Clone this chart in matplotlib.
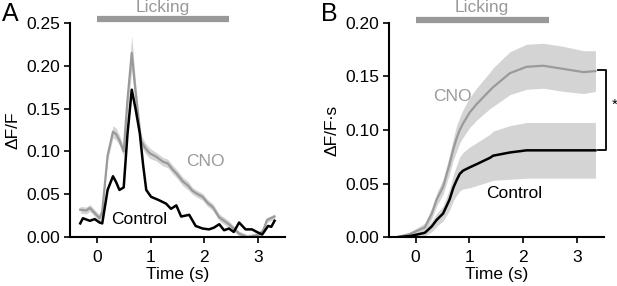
import numpy as np
import matplotlib
matplotlib.use("Agg")
import matplotlib.pyplot as plt

plt.rcParams['font.family'] = ['Liberation Sans', 'DejaVu Sans']

# -----------------------------------------
# Panel A : dF/F traces
# -----------------------------------------
t_ctrl_a = [-0.31, -0.26, -0.13, -0.04, 0.05, 0.1, 0.2, 0.30, 0.36, 0.42, 0.50, 0.57, 0.65, 0.72,
            0.80, 0.86, 0.92, 1.01, 1.16, 1.29, 1.38, 1.48, 1.57, 1.72, 1.84, 1.97, 2.09, 2.18,
            2.28, 2.37, 2.46, 2.55, 2.65, 2.77, 2.89, 2.98, 3.08, 3.19, 3.25, 3.31]
v_ctrl_a = [0.016, 0.022, 0.019, 0.021, 0.017, 0.016, 0.055, 0.071, 0.064, 0.055, 0.058, 0.120, 0.172, 0.150,
            0.121, 0.085, 0.055, 0.047, 0.043, 0.039, 0.033, 0.037, 0.024, 0.026, 0.013, 0.010, 0.009, 0.011,
            0.015, 0.008, 0.010, 0.006, 0.017, 0.009, 0.009, 0.006, 0.003, 0.013, 0.012, 0.019]

t_cno_a = [-0.31, -0.20, -0.13, 0.05, 0.1, 0.2, 0.30, 0.36, 0.42, 0.50, 0.57, 0.65, 0.72, 0.82, 0.90,
           0.98, 1.10, 1.23, 1.32, 1.41, 1.50, 1.60, 1.70, 1.78, 1.88, 1.97, 2.06, 2.16, 2.28, 2.37,
           2.46, 2.55, 2.65, 2.80, 2.90, 3.02, 3.10, 3.17, 3.31]
v_cno_a = [0.032, 0.031, 0.034, 0.022, 0.030, 0.095, 0.123, 0.120, 0.113, 0.100, 0.160, 0.215, 0.170, 0.113, 0.104,
           0.098, 0.094, 0.088, 0.086, 0.079, 0.073, 0.065, 0.060, 0.054, 0.050, 0.047, 0.040, 0.035, 0.023, 0.019,
           0.015, 0.010, 0.004, 0.000, 0.001, 0.003, 0.008, 0.020, 0.024]
e_cno_a = [0.004, 0.004, 0.004, 0.004, 0.004, 0.005, 0.007, 0.007, 0.006, 0.006, 0.012, 0.020, 0.012, 0.007, 0.006,
           0.006, 0.005, 0.005, 0.005, 0.005, 0.005, 0.005, 0.005, 0.004, 0.004, 0.004, 0.004, 0.004, 0.004, 0.004,
           0.004, 0.003, 0.003, 0.003, 0.003, 0.003, 0.003, 0.003, 0.003]

# -----------------------------------------
# Panel B : cumulative dF/F
# -----------------------------------------
t_b = [-0.33, -0.10, 0.17, 0.30, 0.39, 0.51, 0.63, 0.70, 0.76, 0.82, 0.88, 1.00, 1.13, 1.38, 1.44, 1.75, 2.06,
       2.37, 2.75, 3.12, 3.34]
v_cno_b = [0.000, 0.003, 0.009, 0.022, 0.035, 0.047, 0.068, 0.082, 0.092, 0.100, 0.106, 0.116, 0.124, 0.137, 0.140,
           0.153, 0.159, 0.160, 0.157, 0.154, 0.155]
e_cno_b = [0.000, 0.002, 0.004, 0.005, 0.006, 0.007, 0.009, 0.010, 0.012, 0.012, 0.013, 0.014, 0.015, 0.017, 0.018,
           0.020, 0.021, 0.021, 0.021, 0.020, 0.019]
v_ctrl_b = [0.000, 0.001, 0.004, 0.010, 0.016, 0.022, 0.035, 0.046, 0.053, 0.059, 0.062, 0.065, 0.068, 0.074, 0.076,
            0.079, 0.081, 0.081, 0.081, 0.081, 0.081]
e_ctrl_b = [0.000, 0.001, 0.003, 0.005, 0.006, 0.007, 0.010, 0.012, 0.014, 0.016, 0.017, 0.019, 0.020, 0.022, 0.023,
            0.025, 0.026, 0.026, 0.026, 0.026, 0.026]

lick_on, lick_off = 0.0, 2.47
xticks = [0, 1, 2, 3]

grey = "#9a9a9a"
band = "#d4d4d4"
fs = 12.5

fig = plt.figure(figsize=(6.17, 2.86), dpi=100)
axA = fig.add_axes([0.1135, 0.171, 0.348, 0.749])
axB = fig.add_axes([0.630, 0.171, 0.349, 0.749])

for ax in (axA, axB):
    ax.spines["top"].set_visible(False)
    ax.spines["right"].set_visible(False)
    ax.spines["left"].set_linewidth(1.5)
    ax.spines["bottom"].set_linewidth(1.5)
    ax.tick_params(width=1.2, length=4, labelsize=fs, direction="out", pad=3)
    ax.tick_params(axis="x", pad=5)
    ax.set_xlim(-0.5, 3.5)
    ax.set_xticks(xticks)
    ax.set_xlabel("Time (s)", fontsize=fs, labelpad=2)

# A
tA = np.array(t_cno_a)
vA = np.array(v_cno_a)
eA = np.array(e_cno_a)
axA.fill_between(tA, vA - eA, vA + eA, color=band, lw=0)
axA.plot(tA, vA, color=grey, lw=1.6)
axA.plot(t_ctrl_a, v_ctrl_a, color="black", lw=1.8)
axA.set_ylim(0, 0.25)
axA.set_yticks([0, 0.05, 0.10, 0.15, 0.20, 0.25])
axA.set_yticklabels(["0.00", "0.05", "0.10", "0.15", "0.20", "0.25"])
axA.set_ylabel("ΔF/F", fontsize=fs, labelpad=4)
axA.text(2.03, 0.088, "CNO", color=grey, fontsize=fs, ha="center", va="center")
axA.text(0.78, 0.021, "Control", color="black", fontsize=fs, ha="center", va="center")
axA.plot([lick_on, lick_off], [0.2545, 0.2545], color="#999999", lw=4.5, clip_on=False, solid_capstyle="butt")
axA.text(1.23, 0.268, "Licking", color="#999999", fontsize=fs, ha="center", va="center")
fig.text(0.003, 0.95, "A", fontsize=18, ha="left", va="center")

# B
tB = np.array(t_b)
c = np.array(v_cno_b)
ec = np.array(e_cno_b)
k = np.array(v_ctrl_b)
ek = np.array(e_ctrl_b)
axB.fill_between(tB, c - ec, c + ec, color=band, lw=0)
axB.fill_between(tB, k - ek, k + ek, color=band, lw=0)
axB.plot(tB, c, color=grey, lw=1.6)
axB.plot(tB, k, color="black", lw=1.8)
axB.set_ylim(0, 0.20)
axB.set_yticks([0, 0.05, 0.10, 0.15, 0.20])
axB.set_yticklabels(["0.00", "0.05", "0.10", "0.15", "0.20"])
axB.set_ylabel("ΔF/F\u2219s", fontsize=fs, labelpad=4)
axB.text(0.68, 0.131, "CNO", color=grey, fontsize=fs, ha="center", va="center")
axB.text(1.83, 0.041, "Control", color="black", fontsize=fs, ha="center", va="center")
axB.plot([lick_on, lick_off], [0.2028, 0.2028], color="#999999", lw=4.5, clip_on=False, solid_capstyle="butt")
axB.text(1.23, 0.2142, "Licking", color="#999999", fontsize=fs, ha="center", va="center")
axB.plot([3.39, 3.53, 3.53, 3.39], [0.156, 0.156, 0.081, 0.081], color="black", lw=1.3, clip_on=False)
axB.text(3.70, 0.124, "*", fontsize=11, ha="center", va="center")
fig.text(0.52, 0.95, "B", fontsize=18, ha="left", va="center")

plt.savefig("out.png", dpi=100)
